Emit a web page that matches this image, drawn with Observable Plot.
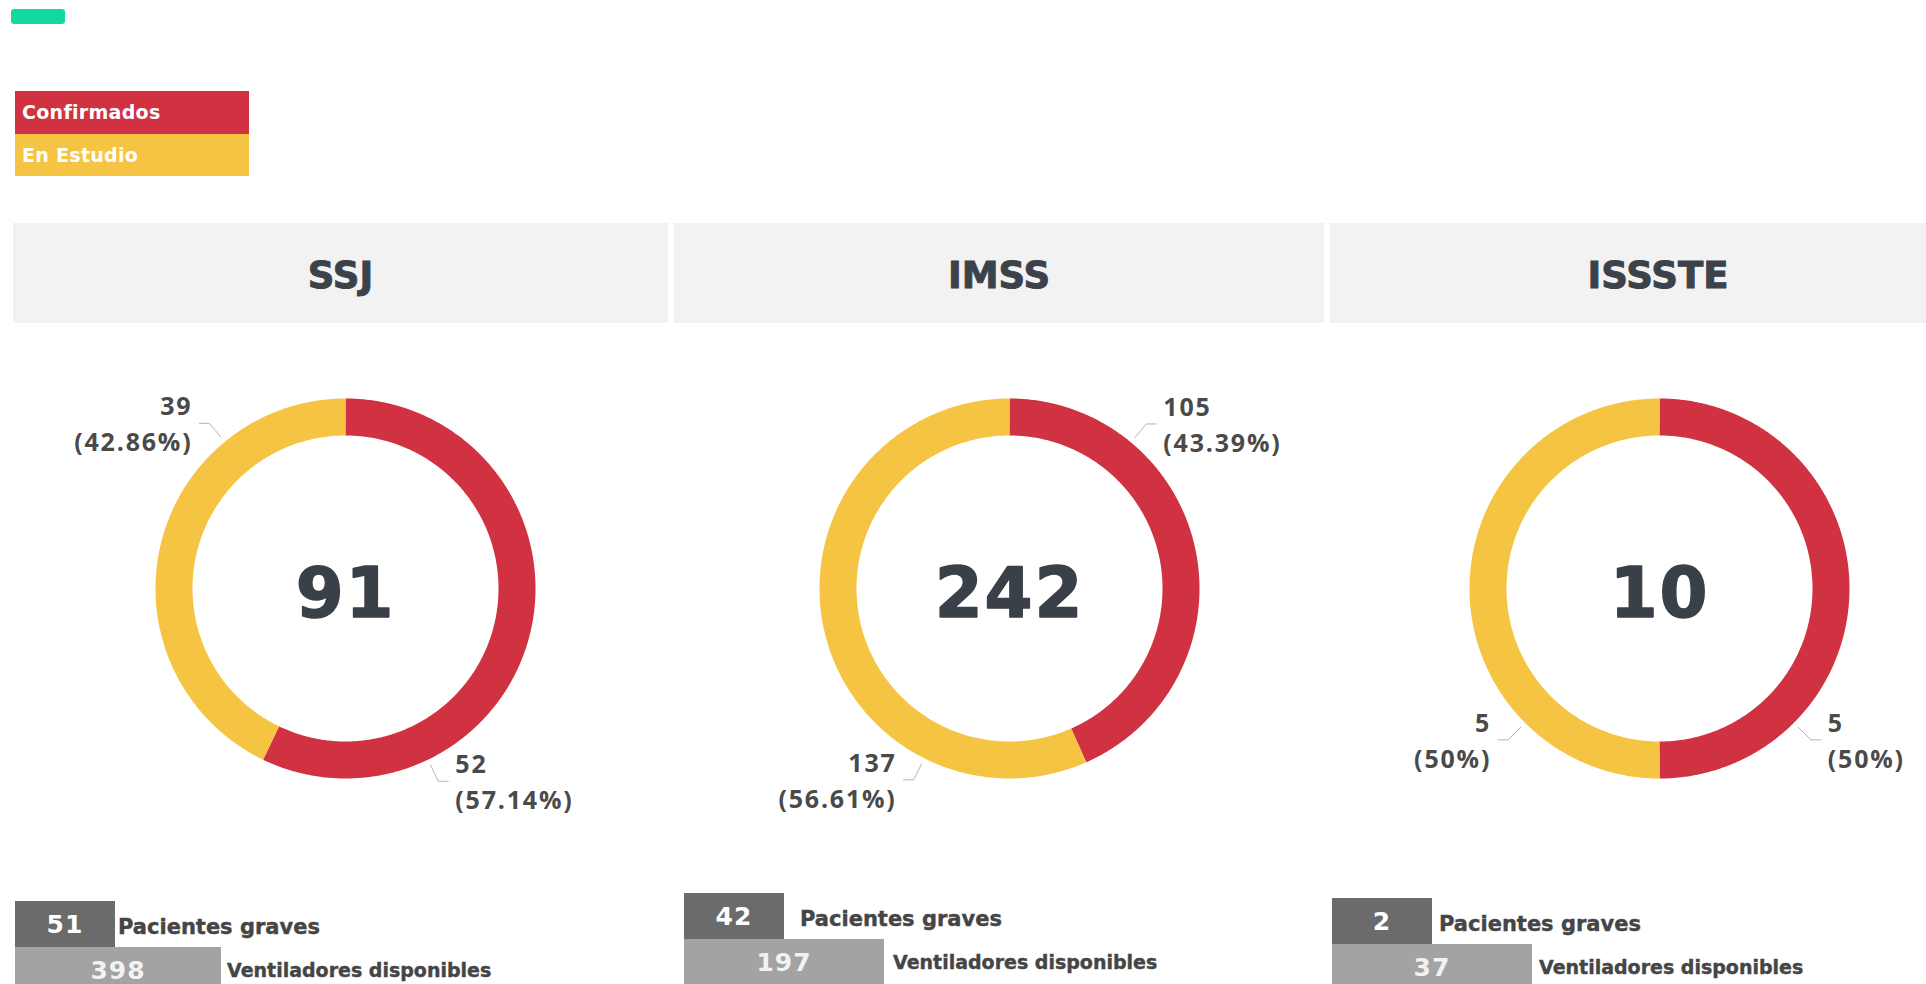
<!DOCTYPE html>
<html><head><meta charset="utf-8">
<script src="https://cdn.jsdelivr.net/npm/d3@7"></script>
<script src="https://cdn.jsdelivr.net/npm/@observablehq/plot@0.6"></script>
<style>
html,body{margin:0;padding:0;background:#fff;}
body{width:1926px;height:984px;overflow:hidden;position:relative;font-family:"DejaVu Sans",sans-serif}
#badge{position:absolute;left:11px;top:9px;width:54px;height:15px;background:#14d99c;border-radius:3px}
#legend{position:absolute;left:15px;top:91px;width:234px}
#legend div{height:42.5px;line-height:42.5px;color:#fff;font-weight:bold;font-size:19px;padding-left:7px;box-sizing:border-box;letter-spacing:0.3px}
.head{position:absolute;top:223px;height:100px;background:#f2f2f2;text-align:center;font-weight:bold;font-size:37px;color:#3c4249;line-height:100px;box-sizing:border-box;padding-top:3px;overflow:hidden;-webkit-text-stroke:1px #3c4249}
.donut{position:absolute;width:640px;height:560px}
.donut svg{max-width:none !important;width:640px;height:560px}
.donut svg text{letter-spacing:1.8px}
.card{position:absolute}
.row{display:flex;align-items:center;height:46px}
.box{height:46px;display:flex;align-items:center;justify-content:center;font-weight:bold;font-size:25px;letter-spacing:1px}
.lab{font-weight:bold;color:#454545;position:relative;-webkit-text-stroke:0.4px #454545}
</style></head><body>
<div id="badge"></div>
<div id="legend"></div>
<div id="root"></div>
<script>
// ---------- data ----------
const institutions = ["SSJ", "IMSS", "ISSSTE"];
const statuses = ["Confirmados", "En Estudio"];
const confirmados = [52, 105, 5];
const enEstudio = [39, 137, 5];
const pacientesGraves = [51, 42, 2];
const ventiladores = [398, 197, 37];
const statusColors = ["#d03241", "#f6c443"];
const cardLabels = ["Pacientes graves", "Ventiladores disponibles"];

// ---------- layout ----------
const panelLeft = [13, 674, 1330], panelWidth = [655, 650, 656];
const donutCx = [345, 1009, 1659], donutCy = 588;
const cardLeft = [15, 684, 1332], cardTop = [901, 893, 898];
const lightWidth = [206, 200, 200], gap1 = [3, 16, 7], gap2 = [6, 9, 7];
const W = 640, H = 560, R = 190, R0 = 153;

// legend
const legend = document.getElementById("legend");
statuses.forEach((s, k) => {
  const d = document.createElement("div");
  d.style.background = statusColors[k];
  d.textContent = s;
  legend.appendChild(d);
});

const root = document.getElementById("root");

institutions.forEach((name, i) => {
  // header
  const h = document.createElement("div");
  h.className = "head";
  h.style.left = panelLeft[i] + "px";
  h.style.width = panelWidth[i] + "px";
  h.textContent = name;
  root.appendChild(h);

  // donut
  const values = [confirmados[i], enEstudio[i]];
  const total = d3.sum(values);
  const pie = d3.pie().sort(null).value(d => d)(values);
  const rm = (R + R0) / 2;
  const ring = [];
  pie.forEach((s, k) => {
    const n = Math.max(2, Math.ceil((s.endAngle - s.startAngle) / (Math.PI / 360)));
    for (let j = 0; j <= n; j++) {
      const a = s.startAngle + (s.endAngle - s.startAngle) * j / n;
      ring.push({status: statuses[k], x: rm * Math.sin(a), y: rm * Math.cos(a)});
    }
  });
  const labels = [], leaders = [];
  pie.forEach((s, k) => {
    const a0 = s.startAngle * 180 / Math.PI, a1 = s.endAngle * 180 / Math.PI;
    const mid = (a0 + a1) / 2;
    let best = 45, bd = Infinity;
    for (const dg of [45, 135, 225, 315]) {
      const dist = Math.abs(dg - mid);
      if (dist < bd - 1e-6 || (Math.abs(dist - bd) < 1e-6 && (dg === 135 || dg === 225))) { bd = dist; best = dg; }
    }
    const lower = best === 135 || best === 225;
    const d = best - mid;
    let th = best + (lower ? 2.1 : 0.6) * d * Math.max(0, 45 - Math.abs(d)) / 45;
    th = Math.max(a0 + 5, Math.min(a1 - 5, th));
    const t = th * Math.PI / 180, sx = Math.sin(t), cy = Math.cos(t);
    const right = sx >= 0;
    const p0 = {x: (R + 6) * sx, y: (R + 6) * cy};
    const p1 = {x: (R + 24) * sx, y: (R + 24) * cy};
    const p2 = {x: p1.x + (right ? 10 : -10), y: p1.y};
    [p0, p1, p2].forEach(p => leaders.push({key: statuses[k], x: p.x, y: p.y}));
    const pct = +(values[k] / total * 100).toFixed(2);
    labels.push({right, x: p2.x + (right ? 7 : -7), y: p2.y, value: String(values[k]), pct: `(${pct}%)`});
  });
  const lblOpts = {fontFamily: "Open Sans", fontWeight: 700, fontSize: 25, fill: "#4a4a4a"};
  const plot = Plot.plot({
    width: W, height: H, margin: 0,
    x: {domain: [-W / 2, W / 2], axis: null},
    y: {domain: [-H / 2, H / 2], axis: null},
    color: {domain: statuses, range: statusColors},
    style: {background: "transparent", overflow: "visible"},
    marks: [
      Plot.line(ring, {x: "x", y: "y", z: "status", stroke: "status", strokeWidth: R - R0, strokeLinecap: "butt", strokeLinejoin: "round"}),
      Plot.line(leaders, {x: "x", y: "y", z: "key", stroke: "#b5b5b5", strokeWidth: 1}),
      Plot.text(labels, {filter: d => d.right, x: "x", y: "y", text: "value", textAnchor: "start", dy: -16, ...lblOpts}),
      Plot.text(labels, {filter: d => d.right, x: "x", y: "y", text: "pct", textAnchor: "start", dy: 20, ...lblOpts}),
      Plot.text(labels, {filter: d => !d.right, x: "x", y: "y", text: "value", textAnchor: "end", dy: -16, ...lblOpts}),
      Plot.text(labels, {filter: d => !d.right, x: "x", y: "y", text: "pct", textAnchor: "end", dy: 20, ...lblOpts}),
      Plot.text([{x: 0, y: 0, t: String(total)}], {x: "x", y: "y", text: "t", fontFamily: "DejaVu Sans", fontWeight: "bold", fontSize: 69, fill: "#3a4048", stroke: "#3a4048", strokeWidth: 1.5, dy: 6})
    ]
  });
  const wrap = document.createElement("div");
  wrap.className = "donut";
  wrap.style.left = (donutCx[i] - W / 2) + "px";
  wrap.style.top = (donutCy - H / 2) + "px";
  wrap.appendChild(plot);
  root.appendChild(wrap);

  // KPI cards
  const card = document.createElement("div");
  card.className = "card";
  card.style.left = cardLeft[i] + "px";
  card.style.top = cardTop[i] + "px";
  card.innerHTML =
    `<div class="row"><div class="box" style="width:100px;background:#6b6b6b;color:#fff">${pacientesGraves[i]}</div>` +
    `<div class="lab" style="margin-left:${gap1[i]}px;font-size:21px;top:3px">${cardLabels[0]}</div></div>` +
    `<div class="row"><div class="box" style="width:${lightWidth[i]}px;background:#a3a3a3;color:#f2f2f2">${ventiladores[i]}</div>` +
    `<div class="lab" style="margin-left:${gap2[i]}px;font-size:19px">${cardLabels[1]}</div></div>`;
  root.appendChild(card);
});
</script>
</body></html>
